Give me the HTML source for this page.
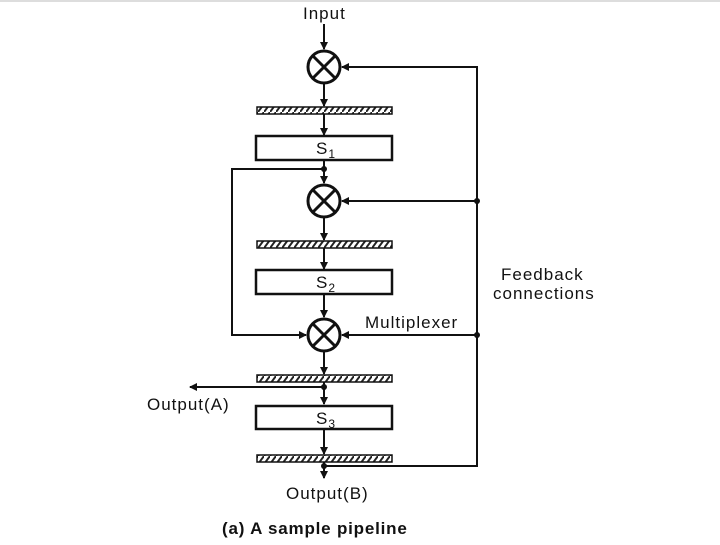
<!DOCTYPE html>
<html><head><style>
body{margin:0;background:#fff}
svg text{font-family:"Liberation Sans",sans-serif;fill:#111}
</style></head><body>
<svg width="720" height="540" viewBox="0 0 720 540" xmlns="http://www.w3.org/2000/svg">
<defs>
<marker id="a" markerWidth="8" markerHeight="8" refX="7" refY="4" orient="auto" markerUnits="userSpaceOnUse"><path d="M0,0 L8,4 L0,8 z" fill="#111"/></marker>
<pattern id="h" width="6" height="8" patternUnits="userSpaceOnUse"><rect width="6" height="8" fill="#fff"/><path d="M0,8 L6,0" stroke="#222" stroke-width="2"/></pattern>
</defs>
<line x1="0" y1="1" x2="720" y2="1" stroke="#ddd" stroke-width="2"/>
<g stroke="#111" stroke-width="2" fill="none">
<line x1="324" y1="24" x2="324" y2="49" marker-end="url(#a)"/>
<line x1="324" y1="84" x2="324" y2="106" marker-end="url(#a)"/>
<line x1="324" y1="114" x2="324" y2="135" marker-end="url(#a)"/>
<line x1="324" y1="160" x2="324" y2="183" marker-end="url(#a)"/>
<line x1="324" y1="218" x2="324" y2="240" marker-end="url(#a)"/>
<line x1="324" y1="248" x2="324" y2="269" marker-end="url(#a)"/>
<line x1="324" y1="294" x2="324" y2="317" marker-end="url(#a)"/>
<line x1="324" y1="352" x2="324" y2="374" marker-end="url(#a)"/>
<line x1="324" y1="382" x2="324" y2="404" marker-end="url(#a)"/>
<line x1="324" y1="430" x2="324" y2="454" marker-end="url(#a)"/>
<line x1="324" y1="462" x2="324" y2="478" marker-end="url(#a)"/>
<polyline points="324,466 477,466 477,67 342,67" marker-end="url(#a)"/>
<line x1="477" y1="201" x2="342" y2="201" marker-end="url(#a)"/>
<line x1="477" y1="335" x2="342" y2="335" marker-end="url(#a)"/>
<polyline points="324,169 232,169 232,335 306,335" marker-end="url(#a)"/>
<line x1="324" y1="387" x2="190" y2="387" marker-end="url(#a)"/>
<g stroke-width="3">
<circle cx="324" cy="67" r="16"/><line x1="313" y1="56" x2="335" y2="78"/><line x1="335" y1="56" x2="313" y2="78"/>
<circle cx="324" cy="201" r="16"/><line x1="313" y1="190" x2="335" y2="212"/><line x1="335" y1="190" x2="313" y2="212"/>
<circle cx="324" cy="335" r="16"/><line x1="313" y1="324" x2="335" y2="346"/><line x1="335" y1="324" x2="313" y2="346"/>
</g>
<rect x="256" y="136" width="136" height="24" stroke-width="2.5" fill="#fff"/>
<rect x="256" y="270" width="136" height="24" stroke-width="2.5" fill="#fff"/>
<rect x="256" y="406" width="136" height="23" stroke-width="2.5" fill="#fff"/>
<rect x="257" y="107" width="135" height="7" fill="url(#h)" stroke-width="1.5"/>
<rect x="257" y="241" width="135" height="7" fill="url(#h)" stroke-width="1.5"/>
<rect x="257" y="375" width="135" height="7" fill="url(#h)" stroke-width="1.5"/>
<rect x="257" y="455" width="135" height="7" fill="url(#h)" stroke-width="1.5"/>
</g>
<g fill="#111">
<circle cx="477" cy="201" r="3"/><circle cx="477" cy="335" r="3"/>
<circle cx="324" cy="169" r="3"/><circle cx="324" cy="387" r="3"/><circle cx="324" cy="466" r="3"/>
</g>
<g font-size="17" letter-spacing="1">
<text x="303" y="19">Input</text>
<text x="316" y="154">S<tspan font-size="12" dy="4">1</tspan></text>
<text x="316" y="288">S<tspan font-size="12" dy="4">2</tspan></text>
<text x="316" y="424">S<tspan font-size="12" dy="4">3</tspan></text>
<text x="365" y="328">Multiplexer</text>
<text x="501" y="280">Feedback</text>
<text x="493" y="299">connections</text>
<text x="147" y="410">Output(A)</text>
<text x="286" y="499">Output(B)</text>
</g>
<text x="222" y="534" font-size="17" letter-spacing="0.8" font-weight="bold">(a) A sample pipeline</text>
</svg>
</body></html>
